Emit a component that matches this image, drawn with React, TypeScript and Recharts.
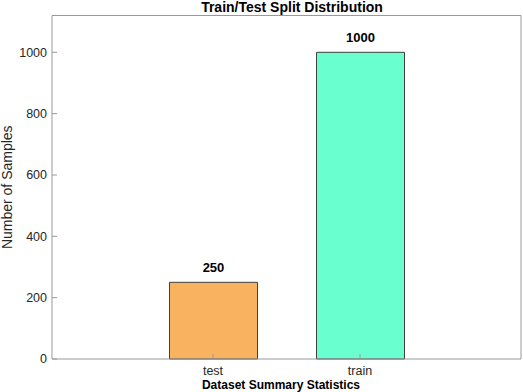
import { BarChart, Bar, XAxis, YAxis, Cell, LabelList } from "recharts";

const splits = ["test", "train"];
const sampleCounts = [250, 1000];
const barColors = ["#f9b25f", "#69ffcf"];
const yTicks = [0, 200, 400, 600, 800, 1000];

const data = splits.map((name, i) => ({ name, count: sampleCounts[i] }));

const FONT = '"Liberation Sans", Arial, Helvetica, sans-serif';
const AXIS = "#999999";
const INK = "#262626";

export default function App() {
  return (
    <div
      style={{
        position: "absolute",
        left: 0,
        top: 0,
        width: 523,
        height: 392,
        background: "#fff",
        fontFamily: FONT,
      }}
    >
      <div
        style={{
          position: "absolute",
          left: 192,
          width: 200,
          top: -1,
          textAlign: "center",
          fontSize: 14,
          fontWeight: "bold",
          color: "#000",
          lineHeight: "16px",
        }}
      >
        Train/Test Split Distribution
      </div>
      <BarChart
        width={523}
        height={392}
        data={data}
        margin={{ top: 14.5, right: 1, bottom: 0, left: 0 }}
        style={{ fontFamily: FONT }}
      >
        <XAxis
          xAxisId="b"
          dataKey="name"
          height={33}
          padding={{ left: 87.5, right: 87.5 }}
          tickSize={-5}
          tickMargin={12}
          stroke={AXIS}
          tick={{ fill: INK, fontSize: 12.5 }}
          label={{
            value: "Dataset Summary Statistics",
            position: "insideBottom",
            offset: 3,
            dx: -5.5,
            fill: "#000",
            fontSize: 12,
            fontWeight: "bold",
          }}
        />
        <XAxis
          xAxisId="t"
          dataKey="name"
          orientation="top"
          height={1}
          padding={{ left: 87.5, right: 87.5 }}
          tickSize={-5}
          tick={false}
          stroke={AXIS}
        />
        <YAxis
          yAxisId="l"
          width={52}
          domain={[0, 1120]}
          ticks={yTicks}
          tickSize={-5}
          tickMargin={10}
          stroke={AXIS}
          tick={{ fill: INK, fontSize: 12.5 }}
          label={{
            value: "Number of Samples",
            angle: -90,
            position: "insideLeft",
            offset: 7.5,
            fill: INK,
            fontSize: 14,
            style: { textAnchor: "middle" },
          }}
        />
        <YAxis
          yAxisId="r"
          orientation="right"
          width={1}
          domain={[0, 1120]}
          ticks={yTicks}
          tickSize={-5}
          tick={false}
          stroke={AXIS}
        />
        <Bar
          dataKey="count"
          xAxisId="b"
          yAxisId="l"
          barSize={88}
          stroke="#404040"
          strokeWidth={1}
          isAnimationActive={false}
        >
          {data.map((d, i) => (
            <Cell key={d.name} fill={barColors[i]} />
          ))}
          <LabelList
            dataKey="count"
            position="top"
            offset={10.5}
            fill="#000"
            fontSize={13}
            fontWeight="bold"
          />
        </Bar>
      </BarChart>
    </div>
  );
}
